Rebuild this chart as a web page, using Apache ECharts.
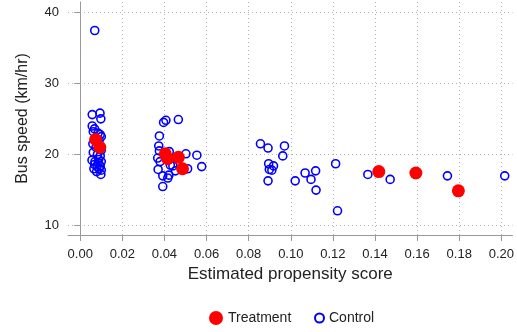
<!DOCTYPE html>
<html>
<head>
<meta charset="utf-8">
<script src="https://cdn.jsdelivr.net/npm/echarts@6/dist/echarts.min.js"></script>
<style>
  html, body { margin: 0; padding: 0; background: #fff; }
  #chart { width: 517px; height: 332px; }
</style>
</head>
<body>
<div id="chart"></div>
<script>
const xTicks = [0, 0.02, 0.04, 0.06, 0.08, 0.10, 0.12, 0.14, 0.16, 0.18, 0.20];
const yTicks = [10, 20, 30, 40];

// control group (propensity score, bus speed)
const controlX = [
  0.0069,
  0.0057, 0.0094, 0.0098, 0.0057, 0.0068, 0.0062, 0.0085, 0.0095, 0.0100, 0.0090,
  0.0060, 0.0075, 0.0100, 0.0062, 0.0082, 0.0095, 0.0056, 0.0070, 0.0088, 0.0100,
  0.0068, 0.0080, 0.0095, 0.0065, 0.0090, 0.0100, 0.0078, 0.0098, 0.0085, 0.0072,
  0.0396, 0.0407, 0.0466, 0.0376, 0.0373, 0.0376, 0.0423, 0.0502, 0.0554, 0.0368,
  0.0379, 0.0428, 0.0440, 0.0510, 0.0577, 0.0370, 0.0452, 0.0392, 0.0416, 0.0421,
  0.0392,
  0.0856, 0.0892, 0.0970, 0.0962, 0.0895, 0.0918, 0.0898, 0.0910, 0.0892, 0.1068,
  0.1118, 0.1096, 0.1021, 0.1120, 0.1213, 0.1222, 0.1366, 0.1472, 0.1744, 0.2016
];
const controlY = [
  37.4,
  25.6, 25.8, 25.0, 24.0, 23.6, 23.2, 23.0, 22.8, 22.5, 22.0,
  21.5, 21.0, 20.6, 20.3, 20.0, 19.8, 19.2, 19.0, 19.3, 19.0,
  18.6, 18.3, 18.4, 18.0, 18.0, 17.8, 17.6, 17.2, 18.8, 22.3,
  24.5, 24.8, 24.9, 22.6, 21.2, 20.5, 20.4, 20.1, 19.9, 19.5,
  19.0, 18.5, 18.4, 18.0, 18.3, 17.9, 17.7, 17.0, 16.7, 17.1,
  15.5,
  21.5, 20.9, 21.2, 19.8, 18.7, 18.4, 17.9, 17.8, 16.3, 17.4,
  17.7, 16.5, 16.3, 15.0, 18.7, 12.1, 17.2, 16.5, 17.0, 17.0
];

// treatment group
const treatX = [0.0073, 0.0093, 0.0404, 0.0415, 0.0466, 0.0486, 0.1418, 0.1594, 0.1796];
const treatY = [22.1, 21.0, 20.1, 19.4, 19.6, 18.0, 17.6, 17.4, 14.9];

const font = 'Liberation Sans, Arial, Helvetica, sans-serif';

// dotted grid lines at the tick values
const gridMarks = xTicks.map(v => ({ xAxis: v })).concat(yTicks.map(v => ({ yAxis: v })));

const chart = echarts.init(document.getElementById('chart'));
chart.setOption({
  animation: false,
  backgroundColor: '#fff',
  textStyle: { fontFamily: font },
  grid: { left: 68, right: 3, top: 2, bottom: 97 },
  xAxis: {
    type: 'value',
    min: -0.0058,
    max: 0.2053,
    name: 'Estimated propensity score',
    nameLocation: 'middle',
    nameGap: 30,
    nameTextStyle: { fontSize: 17, color: '#222', fontFamily: font },
    axisLine: { show: true, lineStyle: { color: '#999', width: 1 } },
    axisTick: { show: true, length: 6, lineStyle: { color: '#999' }, customValues: xTicks },
    axisLabel: {
      color: '#222', fontSize: 13, margin: 13, fontFamily: font,
      customValues: xTicks,
      formatter: v => v.toFixed(2)
    },
    splitLine: { show: false }
  },
  yAxis: {
    type: 'value',
    min: 8.7,
    max: 41.4,
    name: 'Bus speed (km/hr)',
    nameLocation: 'middle',
    nameGap: 37,
    nameRotate: 90,
    nameTextStyle: { fontSize: 16, color: '#222', fontFamily: font },
    axisLine: { show: true, lineStyle: { color: '#999', width: 1 } },
    axisTick: { show: true, length: 6, lineStyle: { color: '#999' }, customValues: yTicks },
    axisLabel: { color: '#222', fontSize: 13, margin: 9, fontFamily: font, customValues: yTicks },
    splitLine: { show: false }
  },
  legend: [
    {
      data: ['Treatment'],
      left: 204, top: 306,
      itemWidth: 14, itemHeight: 14, itemGap: 6,
      textStyle: { fontSize: 14, color: '#222', fontFamily: font }
    },
    {
      data: ['Control'],
      left: 309, top: 306,
      itemWidth: 9, itemHeight: 14,
      textStyle: { fontSize: 14, color: '#222', fontFamily: font }
    }
  ],
  series: [
    {
      name: 'Control',
      type: 'scatter',
      symbol: 'circle',
      symbolSize: 8,
      data: controlX.map((x, i) => [x, controlY[i]]),
      itemStyle: { color: 'rgba(0,0,0,0)', borderColor: '#0000ff', borderWidth: 1.6, opacity: 1 },
      markLine: {
        silent: true,
        symbol: ['none', 'none'],
        label: { show: false },
        lineStyle: { color: '#b4b4b4', type: [1, 3], width: 1 },
        emphasis: { disabled: true },
        data: gridMarks,
        z: 0
      }
    },
    {
      name: 'Treatment',
      type: 'scatter',
      symbol: 'circle',
      symbolSize: 13,
      data: treatX.map((x, i) => [x, treatY[i]]),
      itemStyle: { color: '#ff0000', opacity: 1 }
    }
  ]
});
</script>
</body>
</html>
